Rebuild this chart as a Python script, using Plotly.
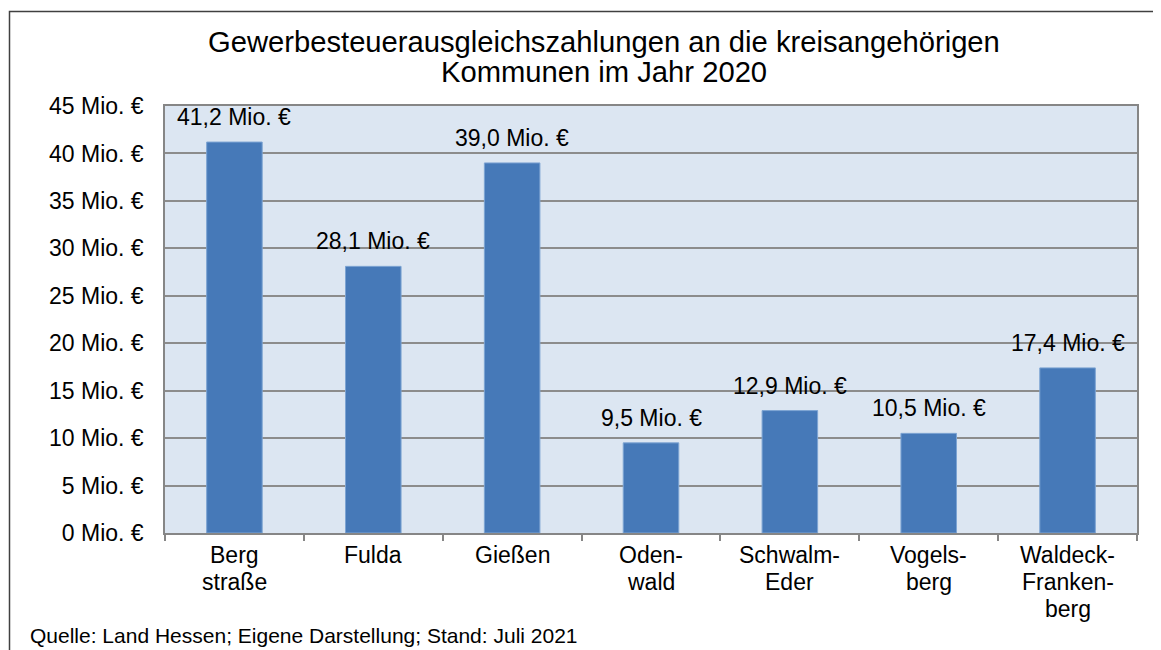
import plotly.graph_objects as go

categories = ["Bergstraße", "Fulda", "Gießen", "Odenwald", "Schwalm-Eder", "Vogelsberg", "Waldeck-Frankenberg"]
category_lines = [["Berg", "straße"], ["Fulda"], ["Gießen"], ["Oden-", "wald"],
                  ["Schwalm-", "Eder"], ["Vogels-", "berg"], ["Waldeck-", "Franken-", "berg"]]
values = [41.2, 28.1, 39.0, 9.5, 12.9, 10.5, 17.4]
tick_vals = [0, 5, 10, 15, 20, 25, 30, 35, 40, 45]
tick_text = [f"{v} Mio. €" for v in tick_vals]
labels = [f"{v:.1f}".replace(".", ",") + " Mio. €" for v in values]

OFF = 8  # browser body margin
W, H = 1161 - OFF, 650 - OFF
L, R, T, B = 165 - OFF, 1137 - OFF, 106 - OFF, 533 - OFF
pw, ph = R - L, B - T

def px(x):
    return (x - OFF - L) / pw

def py(y):
    return (B - (y - OFF)) / ph

FONT = "Liberation Sans, Arial, sans-serif"
BLACK = "#000000"

fig = go.Figure()
fig.add_trace(go.Bar(
    x=categories, y=values,
    marker=dict(color="#4679B8", line=dict(color="#7DA4D3", width=1)),
    width=0.4,
    hoverinfo="skip",
))

# data labels
for c, v, t in zip(categories, values, labels):
    fig.add_annotation(x=c, y=v, text=t, showarrow=False, yanchor="middle",
                       yshift=25, font=dict(size=23, color=BLACK, family=FONT))

# category labels (one annotation per line for tight line spacing)
for c, lines in zip(categories, category_lines):
    for i, ln in enumerate(lines):
        fig.add_annotation(x=c, y=0, xref="x", yref="paper", text=ln, showarrow=False,
                           yanchor="middle", xanchor="center", yshift=-22 - 27 * i,
                           font=dict(size=23, color=BLACK, family=FONT))

# title (two lines)
title_lines = ["Gewerbesteuerausgleichszahlungen an die kreisangehörigen", "Kommunen im Jahr 2020"]
for i, ln in enumerate(title_lines):
    fig.add_annotation(x=px(604), y=py(42 + 30 * i), xref="paper", yref="paper",
                       text=ln, showarrow=False, xanchor="center", yanchor="middle",
                       font=dict(size=29.2, color=BLACK, family=FONT))

fig.add_annotation(x=px(28), y=py(635), xref="paper", yref="paper",
                   text="Quelle: Land Hessen; Eigene Darstellung; Stand: Juli 2021",
                   showarrow=False, xanchor="left", yanchor="middle",
                   font=dict(size=21, color=BLACK, family=FONT))

# outer chart border
fig.add_shape(type="rect", xref="paper", yref="paper",
              x0=px(9.5), x1=px(1180), y0=py(11.5), y1=py(700),
              line=dict(color="#404040", width=1.5), layer="below")

fig.update_layout(
    width=W, height=H,
    margin=dict(l=L, r=W - R, t=T, b=H - B),
    paper_bgcolor="#FFFFFF",
    plot_bgcolor="#DCE6F2",
    showlegend=False,
    font=dict(family=FONT, size=23, color=BLACK),
    xaxis=dict(
        type="category",
        tickson="boundaries",
        ticks="outside", ticklen=6, tickcolor="#868686", tickwidth=1.5,
        showline=True, linecolor="#868686", linewidth=2, mirror=True,
        showgrid=False,
        showticklabels=False,
        fixedrange=True,
    ),
    yaxis=dict(
        range=[0, 45],
        tickvals=tick_vals, ticktext=tick_text,
        showgrid=True, gridcolor="#8C8C8C", gridwidth=1.5,
        showline=True, linecolor="#868686", linewidth=1.5, mirror=True,
        ticks="", ticklen=0,
        ticklabelstandoff=15,
        tickfont=dict(size=23, color=BLACK, family=FONT),
        zeroline=False,
        fixedrange=True,
    ),
)

fig.write_html("out.html")
